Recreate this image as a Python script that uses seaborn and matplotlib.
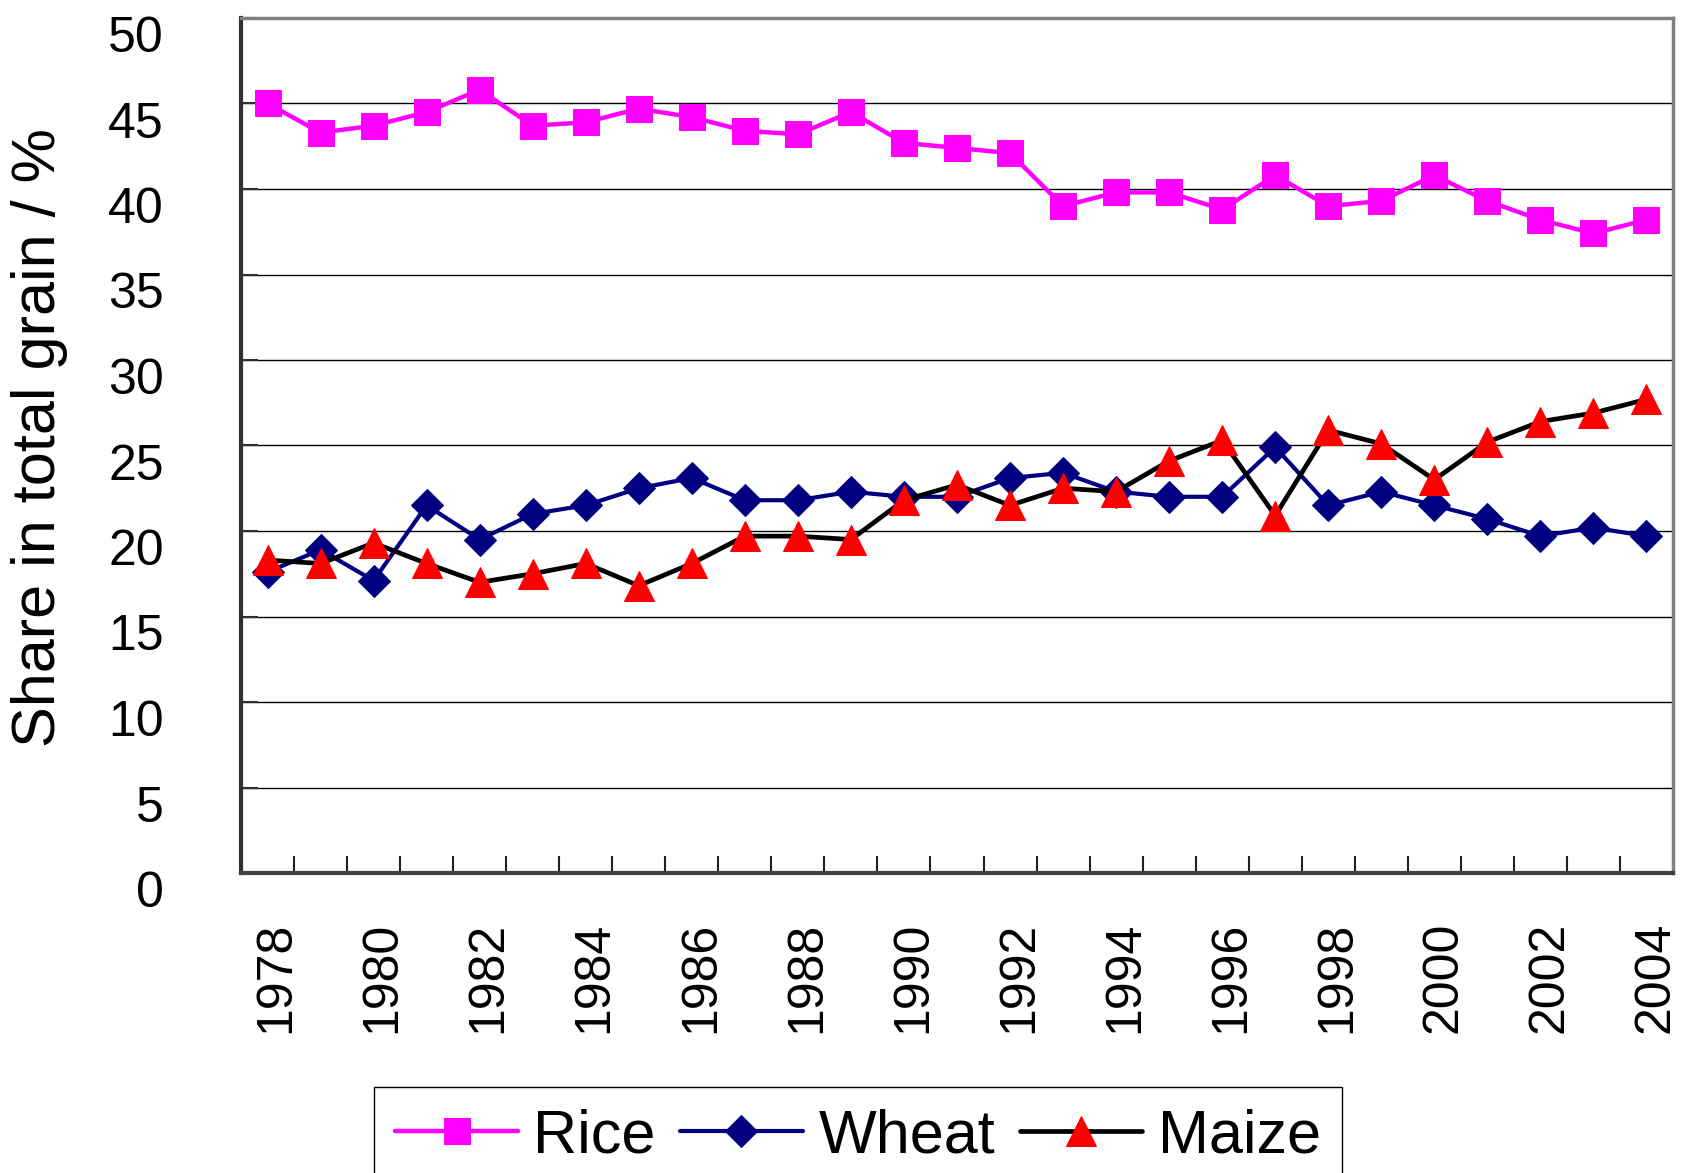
import matplotlib
matplotlib.use("Agg")
import matplotlib.pyplot as plt
import matplotlib.transforms as mtransforms
from matplotlib.ticker import FixedLocator
import numpy as np
import pandas as pd
import seaborn as sns

years = list(range(1978, 2005))
rice = [45.0, 43.3, 43.7, 44.5, 45.8, 43.7, 43.9, 44.7, 44.2, 43.4, 43.2, 44.5, 42.7,
        42.4, 42.1, 39.0, 39.8, 39.8, 38.8, 40.8, 39.0, 39.3, 40.8, 39.3, 38.2, 37.4, 38.2]
wheat = [17.6, 18.9, 17.1, 21.5, 19.5, 21.0, 21.5, 22.5, 23.1, 21.8, 21.8, 22.3, 22.0,
         22.0, 23.1, 23.4, 22.3, 22.0, 22.0, 24.9, 21.5, 22.3, 21.5, 20.7, 19.7, 20.2, 19.7]
maize = [18.3, 18.1, 19.3, 18.1, 17.0, 17.5, 18.1, 16.8, 18.1, 19.7, 19.7, 19.5, 21.8,
         22.7, 21.5, 22.5, 22.3, 24.1, 25.3, 20.9, 25.9, 25.1, 23.0, 25.2, 26.4, 26.9, 27.7]
series_names = ["Rice", "Wheat", "Maize"]
y_label = "Share in total grain / %"
y_ticks = list(range(0, 51, 5))
x_label_years = list(range(1978, 2005, 2))

sns.set_style("white", {"text.color": "black", "xtick.color": "black", "ytick.color": "black",
                        "xtick.bottom": True, "ytick.left": True})
plt.rcParams["font.family"] = ["Liberation Sans", "DejaVu Sans"]
plt.rcParams["text.color"] = "black"

fig = plt.figure(figsize=(16.84, 11.73), dpi=100)
W, H = 1684, 1173
left, right, top, bottom = 241, 1673, 18, 873
ax = fig.add_axes([left / W, 1 - bottom / H, (right - left) / W, (bottom - top) / H])

df = pd.DataFrame({"Year": years, "Rice": rice, "Wheat": wheat, "Maize": maize})

sns.lineplot(data=df, x="Year", y="Rice", ax=ax, color="#FF00FF", linewidth=3.2,
             marker="s", markersize=19, markeredgecolor="#FF00FF", label="Rice", zorder=3)
sns.lineplot(data=df, x="Year", y="Wheat", ax=ax, color="#000080", linewidth=3.0,
             marker="D", markersize=16, markeredgecolor="#000080", label="Wheat", zorder=4)
sns.lineplot(data=df, x="Year", y="Maize", ax=ax, color="black", linewidth=3.4,
             marker="^", markersize=21.5, markerfacecolor="#FF0000",
             markeredgecolor="#FF0000", label="Maize", zorder=5)

ax.set_xlim(1977.5, 2004.5)
ax.set_ylim(0, 50)
ax.set_xlabel("")
ax.set_ylabel("")

ax.set_yticks(y_ticks)
ax.set_yticklabels([str(v) for v in y_ticks], fontsize=36, color="black")
ax.set_xticks(x_label_years)
ax.set_xticklabels([str(v) for v in x_label_years], fontsize=36, rotation=90, color="black")
ax.xaxis.set_minor_locator(FixedLocator([y + 0.5 for y in years[:-1]]))
ax.tick_params(axis="x", which="major", bottom=True, length=0, pad=35)
ax.tick_params(axis="x", which="minor", bottom=True, length=12, width=1.5, color="#202020",
               direction="in")
ax.tick_params(axis="y", which="major", left=True, length=12, width=1.5, color="#303030",
               direction="in", pad=55.5)

for lab in ax.get_yticklabels():
    lab.set_transform(lab.get_transform() + mtransforms.ScaledTranslation(0, -0.16, fig.dpi_scale_trans))
for lab in ax.get_xticklabels():
    lab.set_transform(lab.get_transform() + mtransforms.ScaledTranslation(0.09, 0, fig.dpi_scale_trans))

ax.yaxis.grid(True, color="black", lw=1.0)
ax.set_axisbelow(True)
spine_style = {"left": ("#303030", 3.0), "bottom": ("#404040", 3.0),
               "top": ("#808080", 2.5), "right": ("#808080", 2.5)}
for side, (c, w) in spine_style.items():
    ax.spines[side].set_visible(True)
    ax.spines[side].set_color(c)
    ax.spines[side].set_linewidth(w)

fig.text(40 / W, 1 - 438 / H, y_label, rotation=90, ha="center", va="center",
         fontsize=44, color="black")

ax.get_legend().remove()
handles, labels = ax.get_legend_handles_labels()
leg = fig.legend(handles, labels, loc="upper left", bbox_to_anchor=(374 / W, 1 - 1087 / H),
                 bbox_transform=fig.transFigure, ncol=3, fontsize=44, frameon=True,
                 fancybox=False, framealpha=1, edgecolor="black", borderpad=0.35,
                 handlelength=2.0, handletextpad=0.26, columnspacing=0.4, borderaxespad=0)
leg.get_frame().set_linewidth(1.0)
for t in leg.get_texts():
    t.set_color("black")

fig.savefig("out.png", dpi=100)
